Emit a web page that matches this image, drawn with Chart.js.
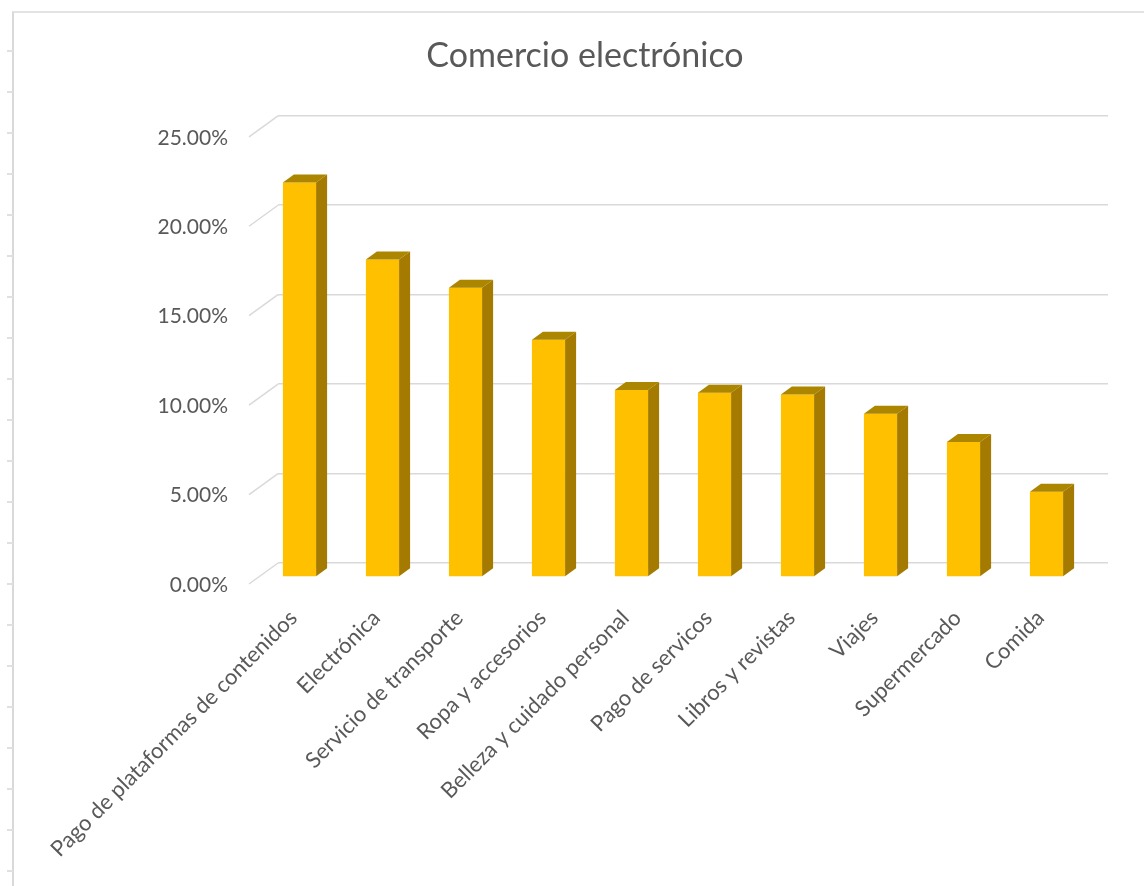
<!DOCTYPE html>
<html>
<head>
<meta charset="utf-8">
<script src="https://cdn.jsdelivr.net/npm/chart.js@4.4.1/dist/chart.umd.min.js"></script>
<style>
    body { margin: 0; background: #fff; }
    #wrap { position: relative; width: 1144px; height: 886px; overflow: hidden; }
    #frame {
        position: absolute; left: 12px; top: 11px; right: -10px; bottom: -10px;
        border-left: 2px solid #d9d9d9; border-top: 2px solid #e3e3e3;
    }
    #rows {
        position: absolute; left: 7px; top: 11px; width: 6px; bottom: 0;
        background: repeating-linear-gradient(to bottom, transparent 0 39px, #e0e0e0 39px 41px);
    }
</style>
</head>
<body>
<div id="wrap">
    <canvas id="chart" width="1144" height="886"></canvas>
    <div id="frame"></div>
    <div id="rows"></div>
</div>
<script>
const categories = [
    'Pago de plataformas de contenidos',
    'Electrónica',
    'Servicio de transporte',
    'Ropa y accesorios',
    'Belleza y cuidado personal',
    'Pago de servicos',
    'Libros y revistas',
    'Viajes',
    'Supermercado',
    'Comida'
];
const shares = [0.2205, 0.1775, 0.1617, 0.1326, 0.1046, 0.1030, 0.1020, 0.0912, 0.0755, 0.0476];
const yTicks = [0, 0.05, 0.10, 0.15, 0.20, 0.25];

const FONT = 'Lato';
const GREY = '#595959';
// offset from back wall to the front face of the bars, and depth of the bars
const SHIFT_X = -20, SHIFT_Y = 14;
const DEPTH_X = 11, DEPTH_Y = -8;

// 3D look: slanted wall/floor joins, top and side faces of the columns
const bars3d = {
    id: 'bars3d',
    beforeDatasetsDraw(chart) {
        const ctx = chart.ctx;
        const y = chart.scales.y;
        const left = chart.chartArea.left;
        ctx.save();
        ctx.strokeStyle = '#d9d9d9';
        ctx.lineWidth = 1.5;
        y.ticks.forEach(t => {
            const py = y.getPixelForValue(t.value);
            ctx.beginPath();
            ctx.moveTo(left - 29, py + 21);
            ctx.lineTo(left, py);
            ctx.stroke();
        });
        ctx.restore();
        ctx.save();
        ctx.translate(SHIFT_X, SHIFT_Y);
    },
    afterDatasetsDraw(chart) {
        const ctx = chart.ctx;
        chart.getDatasetMeta(0).data.forEach(bar => {
            const x0 = bar.x - bar.width / 2;
            const x1 = bar.x + bar.width / 2;
            const top = bar.y, base = bar.base;
            // top face
            ctx.fillStyle = '#AD8600';
            ctx.beginPath();
            ctx.moveTo(x0, top);
            ctx.lineTo(x1, top);
            ctx.lineTo(x1 + DEPTH_X, top + DEPTH_Y);
            ctx.lineTo(x0 + DEPTH_X, top + DEPTH_Y);
            ctx.closePath();
            ctx.fill();
            // side face
            ctx.fillStyle = '#A47B00';
            ctx.beginPath();
            ctx.moveTo(x1, top);
            ctx.lineTo(x1 + DEPTH_X, top + DEPTH_Y);
            ctx.lineTo(x1 + DEPTH_X, base + DEPTH_Y);
            ctx.lineTo(x1, base);
            ctx.closePath();
            ctx.fill();
        });
        ctx.restore();
    }
};

new Chart(document.getElementById('chart'), {
    type: 'bar',
    data: {
        labels: categories,
        datasets: [{
            data: shares,
            backgroundColor: '#FFC000',
            borderWidth: 0,
            categoryPercentage: 1,
            barPercentage: 0.4,
            clip: false
        }]
    },
    options: {
        responsive: false,
        animation: false,
        events: [],
        layout: { padding: { left: 62, right: 36, top: 0, bottom: 0 } },
        plugins: {
            legend: { display: false },
            tooltip: { enabled: false },
            title: {
                display: true,
                text: 'Comercio electrónico',
                color: GREY,
                font: { family: FONT, size: 34, weight: 'normal' },
                padding: { top: 36, bottom: 39 }
            }
        },
        scales: {
            x: {
                grid: { display: false },
                border: { display: false },
                ticks: {
                    autoSkip: false,
                    minRotation: 45,
                    maxRotation: 45,
                    labelOffset: -26,
                    padding: 34,
                    color: GREY,
                    font: { family: FONT, size: 22 }
                },
                afterFit(scale) { scale.height = 323; }
            },
            y: {
                min: 0,
                max: 0.25,
                afterBuildTicks(scale) { scale.ticks = yTicks.map(v => ({ value: v })); },
                grid: { color: '#d9d9d9', lineWidth: 1.5, drawTicks: false },
                border: { display: false },
                ticks: {
                    padding: 50,
                    labelOffset: 22,
                    color: GREY,
                    font: { family: FONT, size: 21 },
                    callback: v => (v * 100).toFixed(2) + '%'
                },
                afterFit(scale) { scale.width = 216; }
            }
        }
    },
    plugins: [bars3d]
});
</script>
</body>
</html>
